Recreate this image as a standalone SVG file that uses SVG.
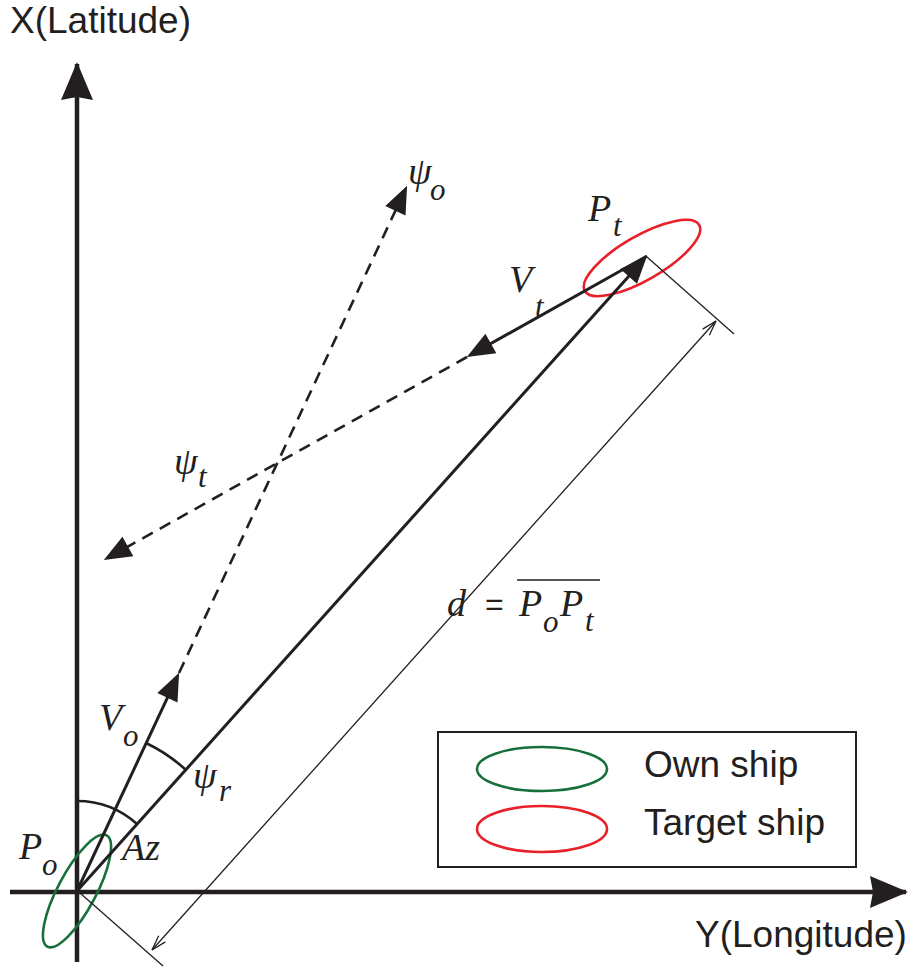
<svg xmlns="http://www.w3.org/2000/svg" width="915" height="967" viewBox="0 0 915 967">
<style>
.ax{stroke:#231f20;stroke-width:4.5;fill:none}
.ln{stroke:#231f20;stroke-width:3;fill:none}
.ds{stroke:#231f20;stroke-width:2.6;fill:none;stroke-dasharray:12 8}
.thin{stroke:#231f20;stroke-width:1.3;fill:none}
.arc{stroke:#231f20;stroke-width:2.6;fill:none}
.sans{font-family:"Liberation Sans",Arial,sans-serif;font-size:37px;fill:#231f20}
.m{font-family:"Liberation Serif","Times New Roman",serif;font-style:italic;font-size:38px;fill:#231f20}
.s{font-family:"Liberation Serif","Times New Roman",serif;font-style:italic;font-size:31px;fill:#231f20}
.g{font-family:"Liberation Serif","Times New Roman",serif;font-style:italic;font-size:38px;fill:#231f20}
.own{stroke:#17703c;stroke-width:2.6;fill:none}
.tgt{stroke:#e8202a;stroke-width:2.6;fill:none}
</style>
<defs>
<marker id="ah" markerUnits="userSpaceOnUse" markerWidth="34" markerHeight="26" viewBox="-26 -12 32 24" refX="0" refY="0" orient="auto">
<path d="M4,0 L-22,-10.5 L-22,10.5 Z" fill="#231f20"/>
</marker>
<marker id="big" markerUnits="userSpaceOnUse" markerWidth="44" markerHeight="36" viewBox="-40 -18 44 36" refX="0" refY="0" orient="auto">
<path d="M2,0 L-36,-16 L-33,0 L-36,16 Z" fill="#231f20"/>
</marker>
<marker id="open" markerUnits="userSpaceOnUse" markerWidth="20" markerHeight="12" viewBox="-18 -6 20 12" refX="0" refY="0" orient="auto-start-reverse">
<path d="M0,0 L-15,-4.5 M0,0 L-15,4.5" stroke="#231f20" stroke-width="1.3" fill="none"/>
</marker>
</defs>

<g id="axes">
<path class="ax" d="M77,962 L77,64" marker-end="url(#big)"/>
<path class="ax" d="M10,892 L906,892" marker-end="url(#big)"/>
<text class="sans" x="10" y="33">X(Latitude)</text>
<text class="sans" x="695" y="947">Y(Longitude)</text>
</g>

<g id="own-ship">
<ellipse class="own" cx="77" cy="891" rx="19" ry="63" transform="rotate(28 77 891)"/>
<text class="m" x="19" y="859">P</text>
<text class="s" x="42" y="875">o</text>
</g>

<g id="target-ship">
<ellipse class="tgt" cx="642" cy="258" rx="66" ry="22" transform="rotate(-30 642 258)"/>
<text class="m" x="588" y="221">P</text>
<text class="s" x="613" y="236">t</text>
</g>

<g id="connectors">
<path class="ln" d="M77,891 L644.3,259" marker-end="url(#ah)"/>
<path class="ln" d="M77,891 L177.3,676.6" marker-end="url(#ah)"/>
<path class="ds" d="M179,673 L405.3,189.6" marker-end="url(#ah)"/>
<path class="ln" d="M647,256 L470.5,355" marker-end="url(#ah)"/>
<path class="ds" d="M467,357 L107.5,558" marker-end="url(#ah)"/>
<path class="thin" d="M647,257 L734,334"/>
<path class="thin" d="M80,893 L163,966"/>
<path class="thin" d="M152,950 L716,321" marker-start="url(#open)" marker-end="url(#open)"/>
<path class="arc" d="M77,801 A90,90 0 0,1 137,824"/>
<path class="arc" d="M146,743 A163,163 0 0,1 186,770"/>
</g>

<g id="labels">
<text class="m" x="99" y="730">V</text>
<text class="s" x="123" y="746">o</text>
<text class="m" x="122" y="860">Az</text>
<text class="g" x="193" y="788">ψ</text>
<text class="s" x="219" y="801">r</text>
<text class="g" x="408" y="184">ψ</text>
<text class="s" x="430" y="200">o</text>
<text class="m" x="509" y="292">V</text>
<text class="s" x="535" y="317">t</text>
<text class="g" x="174" y="474">ψ</text>
<text class="s" x="198" y="487">t</text>
<text class="m" x="447" y="616">d</text>
<text class="sans" x="485" y="615" style="font-size:32px">=</text>
<text class="m" x="519" y="616">P</text>
<text class="s" x="543" y="632">o</text>
<text class="m" x="560" y="616">P</text>
<text class="s" x="585" y="631">t</text>
<path d="M517,580 L600,580" stroke="#231f20" stroke-width="1.5"/>
</g>

<g id="legend">
<rect x="438" y="732" width="418" height="135" fill="none" stroke="#231f20" stroke-width="2"/>
<ellipse class="own" cx="542" cy="769" rx="65" ry="22"/>
<ellipse class="tgt" cx="542" cy="829" rx="65" ry="23"/>
<text class="sans" x="644" y="777">Own ship</text>
<text class="sans" x="644" y="835">Target ship</text>
</g>
</svg>
